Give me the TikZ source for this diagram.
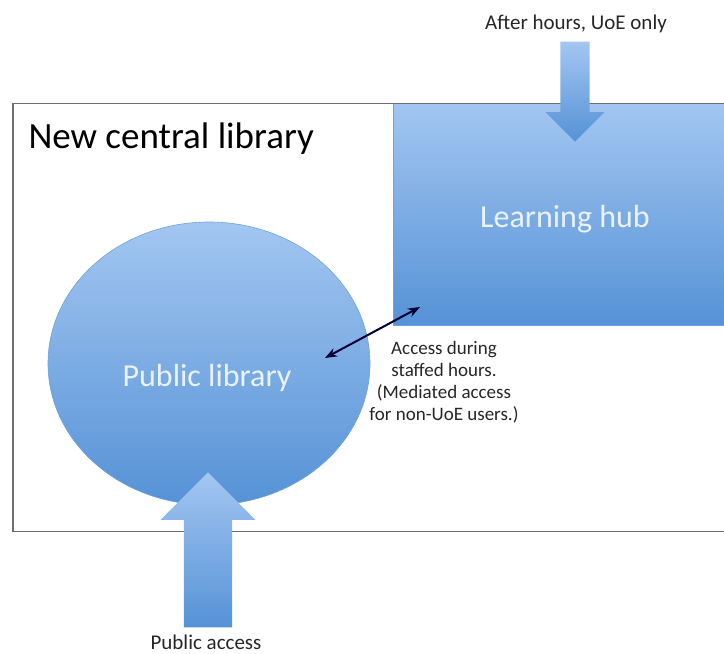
\documentclass[tikz,border=0pt]{standalone}
\usepackage{fontspec}
\setmainfont{Carlito}
\usepackage{xcolor}
\usepackage{tikz}
\usetikzlibrary{calc, positioning, arrows.meta, shapes.geometric, shapes.arrows}
\definecolor{zonetop}{HTML}{A3C6F1}
\definecolor{zonebot}{HTML}{5592D6}
\definecolor{zonetext}{HTML}{EAF2FB}
\definecolor{framegray}{HTML}{6E6E6E}
\tikzset{
    building/.style={rectangle, draw=framegray, line width=1.5pt, anchor=north west, inner sep=0pt},
    zone/.style={top color=zonetop, bottom color=zonebot, draw=zonebot!85!white, line width=0.6pt, inner sep=0pt},
    zonelabel/.style={font=\fontsize{32}{38}\selectfont, text=zonetext, anchor=base},
    entry/.style={single arrow, top color=zonetop, bottom color=zonebot, draw=none, anchor=tip},
    note/.style={font=\fontsize{21}{25}\selectfont, text=black!85, anchor=base},
    link/.style={Stealth-Stealth, line width=2pt, draw=black!80!blue}
}

\begin{document}
\begin{tikzpicture}[x=1pt, y=1pt]
    \useasboundingbox (0,0) rectangle (724,654);

    % Learning hub and public library
    \node[zone, rectangle, anchor=north west, minimum width=360pt, minimum height=222pt] (hub) at (393,551) {};
    \node[zone, ellipse, minimum width=322pt, minimum height=283pt] (pub) at (209,290.5) {};
    \node[zonelabel] (hublabel) at (565,426) {Learning hub};
    \node[zonelabel] (publabel) at (207,267) {Public library};

    % Building outline
    \node[building, minimum width=740pt, minimum height=428pt] (building) at (12,551) {};
    \node[anchor=base west, font=\fontsize{37}{44}\selectfont] (title) at (25,505) {New central library};

    % Entrances
    \node[entry, shape border rotate=270, inner sep=14.5pt, minimum height=100pt, single arrow head extend=15pt] (hubdoor) at (575,512) {};
    \node[note] (hubdoorlabel) at (576,624) {After hours, UoE only};
    \node[entry, shape border rotate=90, inner sep=24pt, minimum height=155pt, single arrow head extend=23.5pt] (pubdoor) at (208,182) {};
    \node[note] (pubdoorlabel) at (206,4) {Public access};

    % Link between the two
    \coordinate (pubend) at (325,296);
    \coordinate (hubend) at (420,347);
    \draw[link] (pubend) -- (hubend);
    \node[note, font=\fontsize{19}{22}\selectfont, align=center, anchor=north, inner sep=0pt] (linklabel) at (444,313)
        {Access during\\staffed hours.\\(Mediated access\\for non-UoE users.)};
\end{tikzpicture}
\end{document}
